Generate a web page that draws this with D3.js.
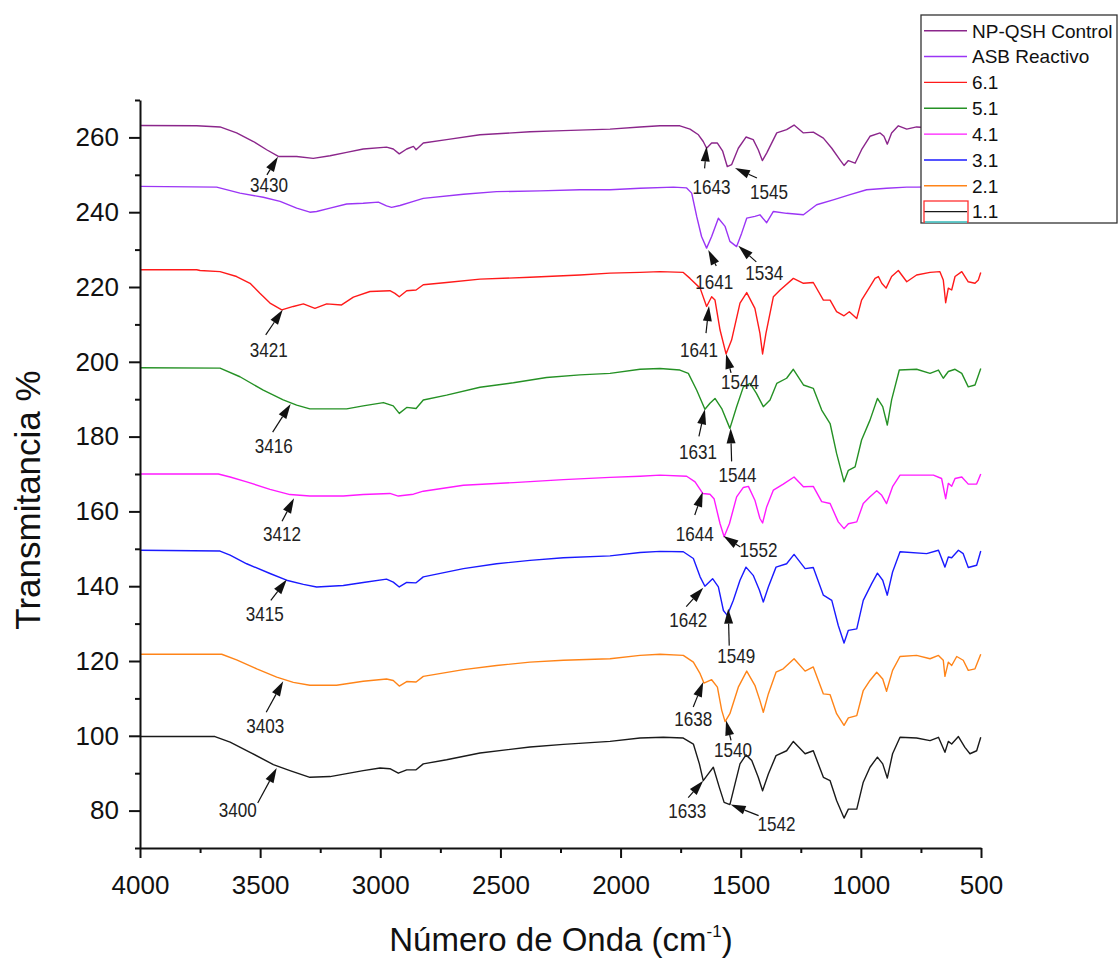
<!DOCTYPE html>
<html>
<head>
<meta charset="utf-8">
<script src="https://cdn.jsdelivr.net/npm/d3@7"></script>
<style>
  body { margin: 0; background: #fff; }
  svg { display: block; font-family: "Liberation Sans", Arial, sans-serif; }
</style>
</head>
<body>
<svg id="chart" width="1120" height="960"></svg>
<script>
// FTIR spectra, [wavenumber cm-1, transmittance %]
const npqshControl = [[4000,263.2],[3764,263.1],[3667,262.8],[3598,261.2],[3528,258.9],[3473,256.7],[3424,254.9],[3348,254.9],[3279,254.4],[3209,255.1],[3140,256.0],[3071,256.9],[2974,257.4],[2946,256.9],[2921,255.6],[2890,256.9],[2862,257.6],[2851,256.7],[2821,258.5],[2724,259.4],[2585,260.7],[2377,261.5],[2238,261.8],[2044,262.2],[1919,262.8],[1836,263.1],[1753,263.1],[1711,262.2],[1676,260.7],[1656,258.9],[1642,257.1],[1621,258.5],[1597,258.5],[1575,256.3],[1556,252.2],[1538,252.7],[1510,257.1],[1478,260.1],[1448,259.4],[1427,256.7],[1410,253.8],[1392,255.8],[1350,261.2],[1309,262.1],[1278,263.3],[1239,261.2],[1198,261.4],[1156,259.8],[1121,257.1],[1087,254.0],[1070,252.5],[1052,253.8],[1024,253.1],[997,256.7],[962,260.3],[920,261.2],[904,260.3],[890,258.2],[872,261.2],[844,263.1],[809,262.2],[768,262.8],[700,262.5],[600,262.5],[500,262.8]];
const asbReactivo = [[4000,246.9],[3681,246.7],[3584,245.1],[3487,244.0],[3417,242.9],[3348,241.1],[3293,240.0],[3265,240.2],[3209,241.1],[3140,242.2],[3071,242.4],[3008,242.7],[2974,241.7],[2953,241.3],[2918,241.8],[2862,242.9],[2821,243.7],[2654,244.8],[2516,245.5],[2336,245.7],[2169,246.0],[2044,246.0],[1919,246.4],[1780,246.7],[1725,246.5],[1704,245.1],[1683,238.8],[1663,233.5],[1642,230.4],[1621,233.5],[1593,238.4],[1565,236.2],[1545,232.2],[1517,230.8],[1496,234.4],[1475,238.4],[1441,238.9],[1420,239.3],[1392,237.2],[1364,240.2],[1309,239.7],[1239,239.3],[1184,242.0],[1115,243.3],[1045,244.7],[976,246.0],[893,246.4],[809,246.7],[768,246.7],[650,246.8],[500,246.8]];
const s61 = [[4000,224.6],[3764,224.6],[3750,224.4],[3667,224.1],[3598,222.8],[3542,221.0],[3501,218.3],[3459,215.7],[3410,213.9],[3362,214.8],[3320,215.5],[3272,214.3],[3223,215.5],[3161,215.2],[3112,217.3],[3043,218.8],[2960,219.0],[2939,218.3],[2921,217.4],[2890,219.0],[2851,219.2],[2821,220.6],[2724,221.2],[2585,222.1],[2377,222.6],[2169,223.2],[2044,223.7],[1919,223.9],[1836,224.1],[1739,223.9],[1711,222.3],[1669,219.7],[1642,214.8],[1621,217.4],[1607,216.5],[1586,208.5],[1561,202.1],[1538,205.8],[1503,215.7],[1475,218.5],[1441,214.3],[1420,207.6],[1409,202.1],[1395,207.6],[1364,217.4],[1336,219.2],[1281,222.3],[1239,221.0],[1198,221.2],[1156,216.5],[1128,216.5],[1101,213.4],[1070,212.3],[1048,213.4],[1017,211.6],[997,216.5],[962,220.1],[941,222.3],[927,222.8],[913,221.0],[895,219.7],[872,222.8],[844,224.4],[809,221.4],[768,223.2],[712,223.9],[671,224.1],[657,221.9],[647,215.8],[636,219.7],[622,219.2],[608,222.8],[580,224.1],[553,221.4],[525,221.0],[511,221.9],[501,223.9]];
const s51 = [[4000,198.4],[3667,198.3],[3584,196.0],[3487,192.4],[3404,189.8],[3348,188.4],[3293,187.4],[3140,187.4],[3071,188.2],[2987,189.1],[2946,188.2],[2921,186.2],[2890,187.8],[2851,187.5],[2821,189.8],[2724,191.1],[2585,193.2],[2446,194.4],[2308,195.8],[2169,196.5],[2044,196.9],[1919,198.0],[1836,198.2],[1753,197.8],[1718,196.9],[1683,192.4],[1649,187.3],[1628,188.9],[1607,190.2],[1579,187.5],[1545,182.2],[1517,188.0],[1489,193.3],[1461,194.2],[1434,191.5],[1406,188.0],[1378,189.8],[1350,194.2],[1309,195.6],[1281,198.0],[1239,193.8],[1198,192.9],[1163,187.1],[1128,183.5],[1101,175.5],[1070,167.9],[1052,171.0],[1024,171.9],[997,179.1],[962,184.4],[931,190.2],[909,188.0],[890,183.1],[872,189.8],[840,197.8],[768,198.0],[712,196.9],[677,197.8],[657,195.6],[636,197.4],[608,198.0],[580,196.9],[553,193.3],[525,193.8],[501,198.2]];
const s41 = [[4000,170.0],[3674,170.0],[3625,169.2],[3556,167.9],[3459,165.9],[3376,164.5],[3293,164.1],[3154,164.1],[3071,164.5],[2960,164.8],[2925,164.1],[2862,164.6],[2821,165.4],[2654,167.0],[2446,167.7],[2238,168.5],[2044,169.1],[1919,169.4],[1836,169.7],[1725,169.4],[1690,167.9],[1658,164.8],[1628,164.6],[1611,163.4],[1586,156.7],[1569,153.2],[1547,156.7],[1517,163.9],[1489,166.4],[1468,166.7],[1441,163.0],[1420,158.1],[1409,156.9],[1392,161.2],[1364,165.7],[1323,167.3],[1278,169.2],[1239,166.6],[1198,166.7],[1163,162.6],[1128,162.1],[1094,157.2],[1070,155.4],[1052,156.7],[1017,157.2],[990,162.1],[962,163.9],[934,165.5],[913,164.3],[893,162.1],[868,166.6],[837,169.7],[698,169.7],[664,168.8],[647,163.4],[636,167.5],[622,166.7],[608,168.8],[580,169.2],[553,167.3],[518,167.3],[501,170.0]];
const s31 = [[4000,149.6],[3667,149.4],[3625,148.3],[3556,146.0],[3459,143.4],[3390,141.6],[3320,140.5],[3265,139.8],[3154,140.2],[3071,141.0],[2974,141.9],[2946,141.1],[2921,139.8],[2890,141.0],[2851,140.9],[2821,142.5],[2654,144.7],[2516,146.0],[2377,146.9],[2238,147.6],[2044,148.1],[1919,149.0],[1836,149.3],[1739,149.2],[1697,147.4],[1669,142.5],[1649,140.0],[1617,142.0],[1593,139.8],[1572,133.5],[1556,132.2],[1531,136.2],[1503,141.6],[1478,145.1],[1448,142.9],[1422,138.9],[1406,135.8],[1385,139.8],[1353,145.1],[1309,146.0],[1278,148.5],[1232,144.7],[1198,145.0],[1156,137.6],[1121,136.2],[1094,129.5],[1070,124.8],[1052,128.2],[1017,128.6],[990,136.2],[955,140.7],[931,143.5],[909,141.6],[890,137.6],[868,143.8],[837,149.2],[726,148.7],[677,149.6],[650,145.1],[636,147.8],[622,147.6],[594,149.6],[574,148.7],[553,145.0],[518,145.6],[501,149.4]];
const s21 = [[4000,121.8],[3660,121.8],[3598,120.3],[3514,117.9],[3431,115.7],[3362,114.3],[3293,113.5],[3182,113.5],[3071,114.6],[2974,115.2],[2946,114.8],[2921,113.3],[2890,114.5],[2851,114.4],[2821,115.9],[2654,117.7],[2516,118.8],[2377,119.7],[2238,120.2],[2044,120.6],[1919,121.5],[1836,121.8],[1739,121.5],[1697,119.7],[1669,116.6],[1653,114.1],[1621,115.0],[1597,113.0],[1579,106.8],[1565,103.8],[1545,105.9],[1510,113.0],[1475,117.3],[1441,113.5],[1420,109.4],[1406,106.3],[1385,111.2],[1353,117.0],[1323,117.9],[1278,120.6],[1232,117.3],[1198,118.4],[1156,111.2],[1128,111.0],[1101,105.9],[1070,102.8],[1052,104.8],[1017,105.4],[990,112.1],[962,114.8],[934,117.0],[909,115.2],[893,111.9],[868,117.5],[837,121.2],[768,121.5],[712,120.6],[677,121.5],[657,120.2],[650,115.9],[636,119.7],[622,118.8],[601,121.2],[574,120.2],[553,117.5],[525,117.9],[501,121.8]];
const s11 = [[4000,99.8],[3688,99.8],[3625,98.3],[3542,95.6],[3445,92.3],[3376,90.7],[3293,88.9],[3209,89.1],[3071,90.7],[3001,91.4],[2960,91.2],[2925,90.0],[2890,90.9],[2851,90.9],[2821,92.5],[2724,93.6],[2585,95.4],[2377,97.0],[2238,97.7],[2044,98.5],[1919,99.4],[1822,99.6],[1739,99.4],[1697,97.8],[1672,92.5],[1656,88.0],[1635,89.8],[1614,91.6],[1589,86.2],[1569,82.2],[1545,81.6],[1524,87.1],[1503,92.5],[1478,94.9],[1454,93.4],[1427,88.9],[1409,85.3],[1385,89.8],[1353,94.7],[1309,96.0],[1281,98.5],[1232,95.2],[1198,96.0],[1156,88.9],[1128,88.0],[1101,82.7],[1070,78.0],[1052,80.4],[1017,80.4],[990,87.6],[962,91.6],[931,94.3],[909,92.5],[890,88.7],[868,95.2],[837,99.6],[768,99.4],[712,98.7],[677,99.6],[650,95.6],[636,98.5],[622,97.8],[594,99.8],[567,96.9],[546,95.2],[518,96.0],[501,99.6]];

const seriesNames = ['NP-QSH Control', 'ASB Reactivo', '6.1', '5.1', '4.1', '3.1', '2.1', '1.1'];
const seriesData = [npqshControl, asbReactivo, s61, s51, s41, s31, s21, s11];
const seriesColors = ['#8b268b', '#9b35f5', '#ff1a1a', '#259125', '#ff1aff', '#1a1aff', '#ff8418', '#1a1a1a'];

const xTicks = [4000, 3500, 3000, 2500, 2000, 1500, 1000, 500];
const yTicks = [80, 100, 120, 140, 160, 180, 200, 220, 240, 260];

// peak labels: [text, wavenumber of arrow tip, transmittance of arrow tip]
const peakLabels = [
    ['3430', 3426, 254.8], ['3421', 3406, 213.9], ['3416', 3373, 188.7], ['3412', 3359, 163.5],
    ['3415', 3389, 141.8], ['3403', 3404, 114.6], ['3400', 3431, 91.4],
    ['1643', 1642, 257.6], ['1545', 1524, 251.8], ['1641', 1635, 229.9], ['1534', 1510, 231.0],
    ['1641', 1632, 214.9], ['1544', 1561, 202.1], ['1631', 1649, 187.3], ['1544', 1542, 182.2],
    ['1644', 1658, 165.2], ['1552', 1572, 153.4], ['1642', 1656, 139.6], ['1549', 1552, 134.0],
    ['1638', 1656, 114.4], ['1540', 1561, 104.1], ['1633', 1656, 88.0], ['1542', 1542, 81.6]
];
// where the arrow tail and the label sit, relative to the tip (px): [tailDx, tailDy, textDx, textDy]
const peakLayout = [
    [-11, 18, -9, 35], [-17, 25, -14, 47], [-18, 28, -17, 49], [-12, 23, -12, 43],
    [-16, 21, -22, 42], [-17, 31, -18, 52], [-19, 35, -39, 49],
    [-2, 22, 5, 48], [22, 10, 34, 31], [8, 16, 6, 39], [18, 16, 26, 34],
    [-3, 27, -10, 51], [5, 19, 14, 35], [-6, 27, -7, 50], [1, 33, 7, 54],
    [-8, 23, -8, 49], [17, 11, 35, 21], [-17, 19, -15, 39], [1, 37, 8, 54],
    [-10, 25, -10, 44], [5, 20, 7, 37], [-15, 17, -16, 37], [28, 11, 46, 26]
];

const svg = d3.select('#chart');
const plot = {left: 140, right: 981, top: 100, bottom: 848};

const x = d3.scaleLinear().domain([4000, 500]).range([plot.left, plot.right]);
const y = d3.scaleLinear().domain([70, 270]).range([plot.bottom, plot.top]);

// spectra
const line = d3.line().x(d => x(d[0])).y(d => y(d[1]));
svg.append('g').selectAll('path')
    .data(seriesData)
    .enter().append('path')
    .attr('d', line)
    .attr('fill', 'none')
    .attr('stroke', (d, i) => seriesColors[i])
    .attr('stroke-width', 1.4)
    .attr('stroke-linejoin', 'round');

// minor ticks
svg.append('g')
    .attr('transform', 'translate(' + plot.left + ',0)')
    .call(d3.axisLeft(y).tickValues(d3.range(70, 271, 20)).tickSize(5).tickFormat('').tickSizeOuter(0))
    .call(g => g.select('.domain').remove());
svg.append('g')
    .attr('transform', 'translate(0,' + plot.bottom + ')')
    .call(d3.axisBottom(x).tickValues(d3.range(3750, 500, -500)).tickSize(5).tickFormat('').tickSizeOuter(0))
    .call(g => g.select('.domain').remove());

// major axes
let yAxis = svg.append('g')
    .attr('transform', 'translate(' + plot.left + ',0)')
    .call(d3.axisLeft(y).tickValues(yTicks).tickSize(11).tickPadding(10).tickSizeOuter(0));
let xAxis = svg.append('g')
    .attr('transform', 'translate(0,' + plot.bottom + ')')
    .call(d3.axisBottom(x).tickValues(xTicks).tickFormat(d3.format('d')).tickSize(10).tickPadding(18).tickSizeOuter(0));

svg.selectAll('.tick line').attr('stroke', '#111').attr('stroke-width', 2);
[yAxis, xAxis].forEach(a => {
    a.select('.domain').attr('stroke', '#111').attr('stroke-width', 2);
    a.selectAll('text').attr('font-size', 26).attr('fill', '#111')
        .attr('font-family', '"Liberation Sans", Arial, sans-serif');
});

// axis titles
svg.append('text')
    .attr('transform', 'translate(40,500) rotate(-90)')
    .attr('text-anchor', 'middle')
    .attr('font-size', 35)
    .attr('fill', '#111')
    .text('Transmitancia %');

let xTitle = svg.append('text')
    .attr('x', 561).attr('y', 951)
    .attr('text-anchor', 'middle')
    .attr('font-size', 33)
    .attr('fill', '#111');
xTitle.append('tspan').text('Número de Onda (cm');
xTitle.append('tspan').attr('font-size', 17).attr('dy', -14).text('-1');
xTitle.append('tspan').attr('dy', 14).text(')');

// peak arrows
let peaks = svg.append('g');
peakLabels.forEach(function(p, i) {
    let tx = x(p[1]), ty = y(p[2]);
    let o = peakLayout[i];
    let sx = tx + o[0], sy = ty + o[1];
    let ang = Math.atan2(ty - sy, tx - sx);
    let len = 15, hw = 4.5;
    let bx = tx - len * Math.cos(ang), by = ty - len * Math.sin(ang);
    peaks.append('line')
        .attr('x1', sx).attr('y1', sy).attr('x2', bx).attr('y2', by)
        .attr('stroke', '#111').attr('stroke-width', 1.2);
    peaks.append('path')
        .attr('d', 'M' + tx + ',' + ty +
            'L' + (bx + hw * Math.sin(ang)) + ',' + (by - hw * Math.cos(ang)) +
            'L' + (bx - hw * Math.sin(ang)) + ',' + (by + hw * Math.cos(ang)) + 'Z')
        .attr('fill', '#111');
    peaks.append('text')
        .attr('x', tx + o[2]).attr('y', ty + o[3])
        .attr('text-anchor', 'middle')
        .attr('font-size', 21)
        .attr('textLength', 38)
        .attr('lengthAdjust', 'spacingAndGlyphs')
        .attr('fill', '#222')
        .text(p[0]);
});

// legend
let legend = svg.append('g');
legend.append('rect')
    .attr('x', 921).attr('y', 15).attr('width', 196).attr('height', 208)
    .attr('fill', '#fff').attr('stroke', '#333').attr('stroke-width', 1.3);
seriesNames.forEach(function(name, i) {
    let ly = 30.7 + i * 25.85;
    legend.append('line')
        .attr('x1', 924).attr('x2', 967).attr('y1', ly).attr('y2', ly)
        .attr('stroke', seriesColors[i]).attr('stroke-width', 1.4);
    legend.append('text')
        .attr('x', 972).attr('y', ly).attr('dy', '0.36em')
        .attr('font-size', 19).attr('fill', '#111')
        .text(name);
});
// selection frame left around the last legend entry
legend.append('rect')
    .attr('x', 924).attr('y', 201).attr('width', 44).attr('height', 21)
    .attr('fill', 'none').attr('stroke', '#ff3030').attr('stroke-width', 1.3);
legend.append('line')
    .attr('x1', 925).attr('x2', 967).attr('y1', 222).attr('y2', 222)
    .attr('stroke', '#33e6e6').attr('stroke-width', 1.5);
</script>
</body>
</html>
